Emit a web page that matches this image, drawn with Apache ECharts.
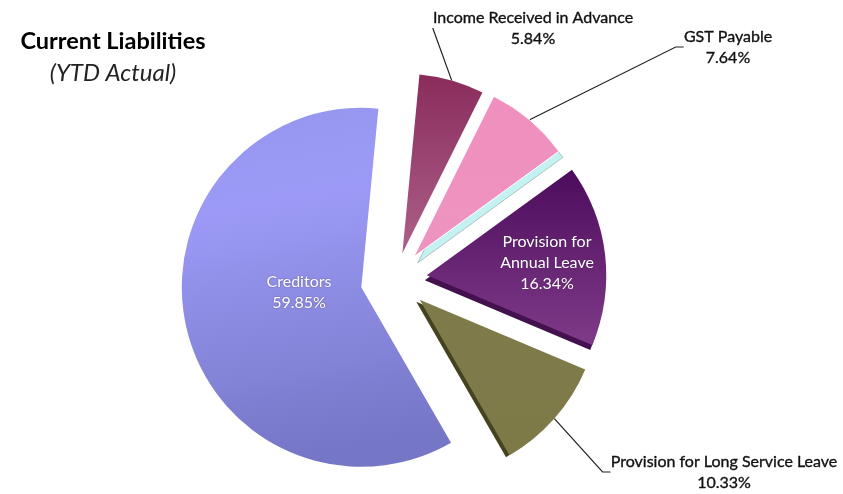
<!DOCTYPE html>
<html>
<head>
<meta charset="utf-8">
<style>html,body{margin:0;padding:0;background:#fff}#c{width:843px;height:494px}</style>
<script src="https://cdn.jsdelivr.net/npm/echarts@6/dist/echarts.min.js"></script>
</head>
<body>
<div id="c"></div>
<script>
const categories = ['Creditors', 'Income Received in Advance', 'GST Payable', 'Provision for\nAnnual Leave', 'Provision for Long Service Leave'];
const values = [59.85, 5.84, 7.64, 16.34, 10.33];
const titleText = 'Current Liabilities';
const subtitleText = '(YTD Actual)';

const FONT = 'Lato';
const CENTER_X = 395, CENTER_Y = 279, R = 179.5, START = -60;
const explode = [34.5, 26.8, 29, 32, 33];
const nudgeY = [1, 0, 0, 0, -1];

function grad(stops, x2, y2) {
  return { type: 'linear', x: 0, y: 0, x2: x2, y2: y2, colorStops: stops.map((s) => ({ offset: s[0], color: s[1] })) };
}
const fills = [
  grad([[0, '#9596ee'], [0.3, '#9c9af6'], [1, '#7576c6']], 0.25, 1),
  grad([[0, '#8a2c5c'], [1, '#ac6189']], 0, 1),
  grad([[0, '#f08fbd'], [1, '#ee94c0']], 0, 1),
  grad([[0, '#4c0c5c'], [1, '#7f3b88']], 0, 1),
  grad([[0, '#7e7a4a'], [1, '#7e7a48']], 0, 1)
];
const darkLabel = { color: '#111', fontSize: 16, fontFamily: FONT, lineHeight: 21, align: 'center', textBorderColor: '#111', textBorderWidth: 0.35 };
const lightLabel = { color: '#fff', fontSize: 16, fontFamily: FONT, lineHeight: 21, align: 'center', textShadowColor: 'rgba(40,20,60,0.5)', textShadowBlur: 2 };
const labelSpots = [
  { x: 299, y: 292, inside: true },
  { x: 533, y: 28, inside: false },
  { x: 728, y: 47, inside: false },
  { x: 547, y: 263, inside: true },
  { x: 724, y: 472, inside: false }
];

function fmt(p) { return p.name + '\n' + p.value.toFixed(2) + '%'; }

const total = values.reduce((a, b) => a + b, 0);
function sliceCenter(index, dx, dy) {
  let before = 0;
  for (let i = 0; i < index; i++) before += values[i];
  const midDeg = START - (before + values[index] / 2) / total * 360;
  const a = midDeg * Math.PI / 180;
  return [CENTER_X + explode[index] * Math.cos(a) + dx, CENTER_Y - explode[index] * Math.sin(a) + nudgeY[index] + dy];
}

function slice(index, dx, dy, z, itemStyle, withLabel) {
  return {
    type: 'pie', silent: true, z, radius: R, center: sliceCenter(index, dx, dy),
    startAngle: START, clockwise: true, animation: false, emphasis: { disabled: true },
    avoidLabelOverlap: false,
    data: categories.map((name, i) => {
      const on = i === index;
      const spot = labelSpots[i];
      return {
        name, value: values[i],
        itemStyle: on ? itemStyle : { color: 'transparent', borderWidth: 0 },
        label: on && withLabel
          ? Object.assign({ show: true, formatter: fmt, position: spot.inside ? 'inside' : 'outside' }, spot.inside ? lightLabel : darkLabel)
          : { show: false },
        labelLine: on && withLabel && !spot.inside
          ? { show: true, length: 20, length2: 8, lineStyle: { color: '#222', width: 1.2 } }
          : { show: false }
      };
    }),
    labelLayout: withLabel ? function () {
      return { x: labelSpots[index].x, y: labelSpots[index].y, align: 'center', verticalAlign: 'middle' };
    } : undefined
  };
}

const chart = echarts.init(document.getElementById('c'), null, { renderer: 'canvas' });
chart.setOption({
  backgroundColor: '#fff',
  animation: false,
  title: [
    { text: titleText, left: 108, top: 24, textAlign: 'center', textStyle: { fontFamily: FONT, fontSize: 23.5, fontWeight: 'bold', color: '#000' } },
    { text: subtitleText, left: 108, top: 56, textAlign: 'center', textStyle: { fontFamily: FONT, fontSize: 24, fontWeight: 'normal', fontStyle: 'italic', color: '#222' } }
  ],
  series: [
    slice(2, 4, 6, 1, { color: '#c4f1f1', borderColor: '#8a9a9a', borderWidth: 0.6 }, false),
    slice(3, -2, 5, 1, { color: '#44114f' }, false),
    slice(4, -3.5, 2, 1, { color: '#45431f' }, false)
  ].concat(categories.map((_, i) => slice(i, 0, 0, 2,
    { color: fills[i], borderColor: i === 2 ? '#fff' : 'transparent', borderWidth: i === 2 ? 1 : 0 }, true)))
});
</script>
</body>
</html>
